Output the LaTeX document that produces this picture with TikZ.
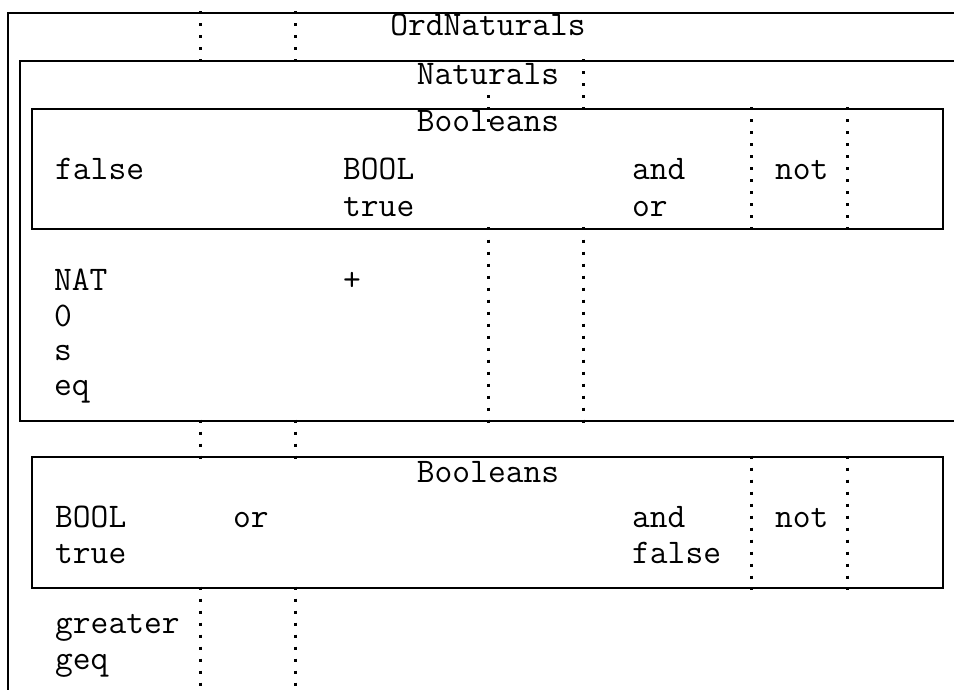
\documentclass[tikz,border=0pt]{standalone}
\begin{document}
\begin{tikzpicture}[x=1pt,y=-1pt,
  frame/.style={line width=2pt},
  dotcol/.style={line width=3pt, dash pattern=on 3pt off 9pt},
  lbl/.style={anchor=base west, inner sep=0pt, font=\ttfamily\fontsize{34.5}{40}\selectfont},
  ttl/.style={anchor=base, inner sep=0pt, font=\ttfamily\fontsize{34.5}{40}\selectfont}]
\useasboundingbox (0,0) rectangle (954,690);
\clip (0,0) rectangle (954,690);

% module frames
\draw[frame] (960,13) -- (8,13) -- (8,700);
\draw[frame] (960,61) -- (20,61) -- (20,421) -- (960,421);
\draw[frame] (32,109) rectangle (943,229);
\draw[frame] (32,457) rectangle (943,588);

% dotted column separators
\foreach \x in {200,295} {
  \draw[dotcol] (\x,11.5) -- (\x,62.5);
  \draw[dotcol] (\x,419.5) -- (\x,458.5);
  \draw[dotcol] (\x,586.5) -- (\x,700);
}
\draw[dotcol] (583,59.5) -- (583,110.5);
\draw[dotcol] (488,95.5) -- (488,122.5);
\foreach \x in {488,583}
  \draw[dotcol] (\x,227.5) -- (\x,422.5);
\foreach \x in {751,847} {
  \draw[dotcol] (\x,107.5) -- (\x,230.5);
  \draw[dotcol] (\x,455.5) -- (\x,589.5);
}

% titles
\node[ttl] (ordnat) at (488,36) {OrdNaturals};
\node[ttl] (nat) at (488,85) {Naturals};
\node[ttl] (boolA) at (488,132) {Booleans};
\node[ttl] (boolB) at (488,482) {Booleans};

% first Booleans box
\node[lbl] (falseA) at (55,180) {false};
\node[lbl] (sortA) at (343,180) {BOOL};
\node[lbl] (trueA) at (343,217) {true};
\node[lbl] (andA) at (632,180) {and};
\node[lbl] (orA) at (632,217) {or};
\node[lbl] (notA) at (775,180) {not};

% Naturals body
\node[lbl] (sortN) at (54,290) {NAT};
\node[lbl] (zero) at (54,326) {0};
\node[lbl] (succ) at (54,360) {s};
\node[lbl] (eq) at (54,395) {eq};
\node[lbl] (plus) at (343,290) {+};

% second Booleans box
\node[lbl] (sortB) at (55,527) {BOOL};
\node[lbl] (trueB) at (55,563) {true};
\node[lbl] (orB) at (233,527) {or};
\node[lbl] (andB) at (632,527) {and};
\node[lbl] (falseB) at (632,563) {false};
\node[lbl] (notB) at (775,527) {not};

% OrdNaturals body
\node[lbl] (greater) at (55,633) {greater};
\node[lbl] (geq) at (55,669) {geq};
\end{tikzpicture}
\end{document}
